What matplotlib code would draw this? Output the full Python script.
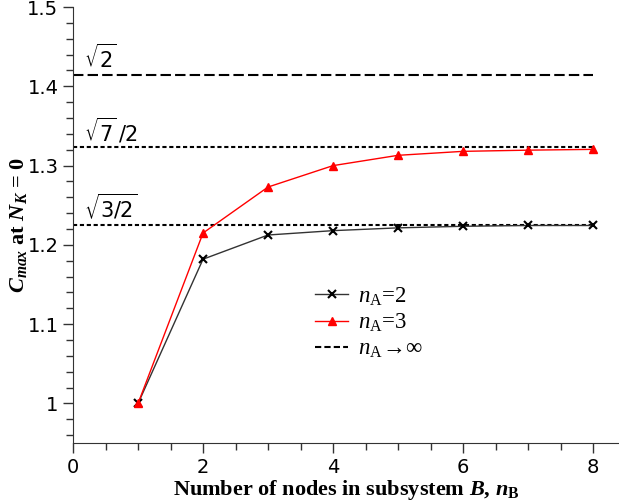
import matplotlib
matplotlib.use("Agg")
import matplotlib.pyplot as plt
from matplotlib.ticker import MultipleLocator, FuncFormatter
from matplotlib.lines import Line2D
import numpy as np

plt.rcParams['mathtext.fontset'] = 'custom'
plt.rcParams['mathtext.rm'] = 'Liberation Serif'
plt.rcParams['mathtext.it'] = 'Liberation Serif:italic'
plt.rcParams['mathtext.bf'] = 'Liberation Serif:bold'
plt.rcParams['mathtext.bfit'] = 'Liberation Serif:bold:italic'

nB = [1, 2, 3, 4, 5, 6, 7, 8]
c_nA2 = [1.0, 1.182, 1.2125, 1.218, 1.2215, 1.2235, 1.2245, 1.2245]
c_nA3 = [1.0, 1.215, 1.273, 1.300, 1.313, 1.318, 1.3195, 1.3205]
limits = [np.sqrt(2), np.sqrt(7) / 2, np.sqrt(3 / 2)]
limit_labels = [r'$\sqrt{2}$', r'$\sqrt{7}\,/2$', r'$\sqrt{3/2}$']
limit_label_y = [1.436, 1.344, 1.249]
legend_labels = [r'$n_\mathrm{A}$=2', r'$n_\mathrm{A}$=3', r'$n_\mathrm{A}\!\rightarrow\!\infty$']

fig = plt.figure(figsize=(6.19, 5.03), dpi=100)
ax = fig.add_axes([0.118, 0.119, 0.882, 0.867])

# limit lines
ax.plot([0, 8], [limits[0]] * 2, color='black', lw=1.5, ls=(0, (5, 2)))
ax.plot([0, 8], [limits[1]] * 2, color='black', lw=1.5, ls=(0, (2, 1.3)))
ax.plot([0, 8], [limits[2]] * 2, color='black', lw=1.5, ls=(0, (2, 1.3)))
for lab, ly in zip(limit_labels, limit_label_y):
    ax.text(0.17, ly, lab, fontsize=15, math_fontfamily='dejavusans',
            ha='left', va='center')

l2, = ax.plot(nB, c_nA2, color='#333333', lw=1.0, marker='x', ms=6,
              mec='black', mew=1.5)
l3, = ax.plot(nB, c_nA3, color='red', lw=1.0, marker='^', ms=6,
              mec='red', mfc='red')
linf = Line2D([], [], color='black', lw=1.5, ls=(0, (3, 1.5)))

leg = ax.legend([l2, l3, linf], legend_labels, loc='upper left',
                bbox_to_anchor=(0.443, 0.362), frameon=False,
                borderaxespad=0, borderpad=0,
                prop={'family': 'Liberation Serif', 'size': 16.5},
                handlelength=1.45, handletextpad=0.45, labelspacing=0.2)

ax.set_xlim(0, 8.4)
ax.set_ylim(0.95, 1.5)
ax.spines['top'].set_visible(False)
ax.spines['right'].set_visible(False)
ax.spines['left'].set_bounds(0.95, 1.5)
for s in ['left', 'bottom']:
    ax.spines[s].set_color('#333333')
ax.xaxis.set_major_locator(MultipleLocator(2))
ax.xaxis.set_minor_locator(MultipleLocator(0.5))
ax.yaxis.set_major_locator(MultipleLocator(0.1))
ax.yaxis.set_minor_locator(MultipleLocator(0.02))
ax.yaxis.set_major_formatter(FuncFormatter(lambda v, p: f'{v:.1f}'.rstrip('0').rstrip('.')))
ax.tick_params(which='major', length=7, width=1, labelsize=14, color='#333333')
ax.tick_params(which='minor', length=5, width=1, color='#333333')
for t in ax.get_xticklabels() + ax.get_yticklabels():
    t.set_fontfamily('DejaVu Sans')

ax.set_xlabel(r'Number of nodes in subsystem $\mathbfit{B}$, $\mathbfit{n}_\mathbf{B}$',
              fontfamily='Liberation Serif', fontweight='bold', fontsize=16, labelpad=1)
ax.set_ylabel(r'$\mathbfit{C}_{\mathbfit{max}}$ at $\mathbfit{N}_{\mathbfit{K}}$ = 0',
              fontfamily='Liberation Serif', fontweight='bold', fontsize=16)
ax.yaxis.set_label_coords(-0.08, 0.5)

fig.savefig('out.png', dpi=100)
